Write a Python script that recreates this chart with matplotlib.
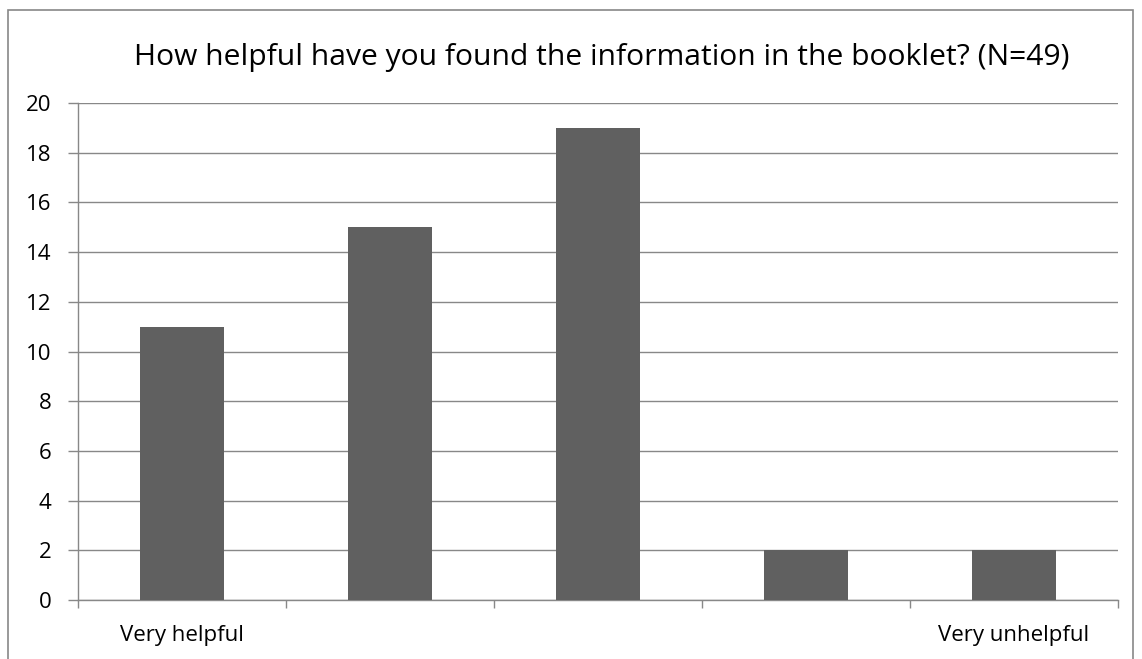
import numpy as np
import matplotlib.pyplot as plt
from matplotlib.patches import Rectangle

categories = ["Very helpful", "", "", "", "Very unhelpful"]
counts = [11, 15, 19, 2, 2]
title = "How helpful have you found the information in the booklet? (N=49)"

plt.rcParams["font.family"] = ["Open Sans", "DejaVu Sans"]

fig = plt.figure(figsize=(11.42, 6.59), dpi=100)
ax = fig.add_axes([78 / 1142, 1 - 600 / 659, (1118 - 78) / 1142, (600 - 103) / 659])

x = np.arange(len(counts))
ax.bar(x, counts, width=0.4, color="#606060", zorder=3)

ax.set_xlim(-0.5, len(counts) - 0.5)
ax.set_ylim(0, 20)
ax.set_yticks(np.arange(0, 21, 2))
ax.yaxis.grid(True, color="#888888", linewidth=1.0, zorder=0)

# labels under the categories, tick marks at the boundaries
ax.set_xticks(x)
ax.set_xticklabels(categories, fontsize=16)
ax.set_xticks(np.arange(-0.5, len(counts), 1), minor=True)
ax.tick_params(axis="x", which="major", length=0, pad=18)
ax.tick_params(axis="x", which="minor", length=6, width=1, color="#888888")
ax.tick_params(axis="y", length=7, width=1, color="#888888", labelsize=16, pad=12)

for s in ["top", "right"]:
    ax.spines[s].set_visible(False)
for s in ["left", "bottom"]:
    ax.spines[s].set_color("#888888")
    ax.spines[s].set_linewidth(1.0)

fig.text(602 / 1142, 1 - 57 / 659, title, ha="center", va="center", fontsize=21.6)

# chart area frame (bottom edge is cut off)
frame = Rectangle((8 / 1142, -0.1), (1133 - 8) / 1142, 1.1 - 10 / 659,
                  transform=fig.transFigure, fill=False,
                  edgecolor="#888888", linewidth=1.2)
fig.patches.append(frame)

fig.savefig("out.png", dpi=100)
